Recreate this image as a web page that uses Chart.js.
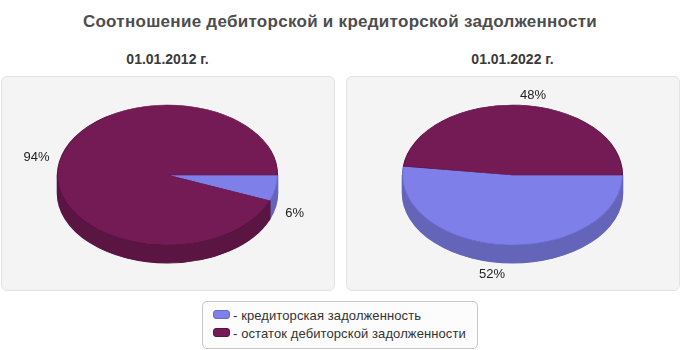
<!DOCTYPE html>
<html>
<head>
<meta charset="utf-8">
<script src="https://cdn.jsdelivr.net/npm/chart.js@4"></script>
<style>
  body { margin: 0; width: 680px; height: 350px; background: #fff; font-family: "Liberation Sans", Arial, sans-serif; position: relative; overflow: hidden; }
  #title { position: absolute; left: 0; width: 680px; top: 12px; text-align: center; font-weight: bold; font-size: 17px; letter-spacing: 0.28px; color: #4d4d4d; }
  .sub { position: absolute; top: 51px; width: 333px; text-align: center; font-weight: bold; font-size: 14px; color: #3a3a3a; }
  .panel { position: absolute; top: 76px; width: 332px; height: 213px; background: #f4f4f4; border: 1px solid #e3e3e3; border-radius: 6px; }
  .panel canvas { position: absolute; left: 0; top: 0; }
  #legend { position: absolute; left: 202px; top: 301px; width: 274px; height: 46px; border: 1px solid #c8c8c8; border-radius: 5px; background: #fcfcfc; font-size: 13px; color: #333; }
  .item { position: absolute; left: 10px; height: 16px; line-height: 16px; white-space: nowrap; letter-spacing: 0.1px; }
  .sw { display: inline-block; width: 15px; height: 7px; border-radius: 3px; margin-right: 3px; vertical-align: 1px; }
</style>
</head>
<body>
<div id="title">Соотношение дебиторской и кредиторской задолженности</div>
<div class="sub" style="left:1px">01.01.2012 г.</div>
<div class="sub" style="left:346px">01.01.2022 г.</div>
<div class="panel" style="left:1px"><canvas id="pie1"></canvas></div>
<div class="panel" style="left:346px"><canvas id="pie2"></canvas></div>
<div id="legend"></div>

<script>
// данные
const seriesNames = ['кредиторская задолженность', 'остаток дебиторской задолженности'];
const values2012 = [6, 94];
const values2022 = [52, 48];
const topColors = ['#7f7fe9', '#741b55'];
const sideColors = ['#6464b9', '#5a1543'];
const edgeColors = ['#6a6ad0', '#5e1145'];

// легенда
const legend = document.getElementById('legend');
seriesNames.forEach(function (name, i) {
  const row = document.createElement('div');
  row.className = 'item';
  row.style.top = (6 + i * 18) + 'px';
  row.innerHTML = '<span class="sw" style="background:' + topColors[i] + ';border:1px solid ' + edgeColors[i] + '"></span>- ' + name;
  legend.appendChild(row);
});

// псевдо-3D: сплющиваем круг и рисуем боковину
const RX = 110, RY = 70, DEPTH = 18;

const pie3d = {
  id: 'pie3d',
  beforeDatasetsDraw(chart) {
    const ctx = chart.ctx;
    const arcs = chart.getDatasetMeta(0).data;
    if (!arcs.length) return;
    const cx = arcs[0].x, cy = arcs[0].y, r = arcs[0].outerRadius;
    const sx = RX / r, sy = RY / r;
    const d = DEPTH / sy;
    ctx.save();
    ctx.translate(cx, cy);
    ctx.scale(sx, sy);
    ctx.translate(-cx, -cy);
    // боковая сторона
    arcs.forEach(function (arc, i) {
      let a0 = arc.startAngle, a1 = arc.endAngle;
      while (a0 < 0) { a0 += 2 * Math.PI; a1 += 2 * Math.PI; }
      const s = Math.max(a0, 0), e = Math.min(a1, Math.PI);
      if (e <= s) return;
      ctx.beginPath();
      ctx.arc(cx, cy, r, s, e);
      ctx.lineTo(cx + r * Math.cos(e), cy + r * Math.sin(e) + d);
      ctx.arc(cx, cy + d, r, e, s, true);
      ctx.closePath();
      ctx.fillStyle = sideColors[i];
      ctx.fill();
      ctx.lineWidth = 1 / sy;
      ctx.strokeStyle = sideColors[i];
      ctx.stroke();
    });
  },
  afterDatasetsDraw(chart) {
    const ctx = chart.ctx;
    ctx.restore();
    // подписи процентов
    const meta = chart.getDatasetMeta(0);
    const data = chart.data.datasets[0].data;
    const total = data.reduce((a, b) => a + b, 0);
    ctx.save();
    ctx.font = '13px "Liberation Sans", Arial, sans-serif';
    ctx.fillStyle = '#222';
    meta.data.forEach(function (arc, i) {
      const mid = (arc.startAngle + arc.endAngle) / 2;
      const c = Math.cos(mid), s = Math.sin(mid);
      let x = arc.x + (RX + 10) * c;
      let y = arc.y + (RY + 6) * s;
      if (s > 0) y += DEPTH + 9.5;
      ctx.textAlign = c >= 0 ? 'left' : 'right';
      ctx.textBaseline = 'alphabetic';
      ctx.fillText(Math.round(data[i] / total * 100) + '%', x, y);
    });
    ctx.restore();
  }
};

function makePie(id, values) {
  const canvas = document.getElementById(id);
  return new Chart(canvas, {
    type: 'pie',
    data: {
      labels: seriesNames,
      datasets: [{
        data: values,
        backgroundColor: topColors,
        borderColor: edgeColors,
        borderWidth: 1,
        clip: false
      }]
    },
    options: {
      responsive: false,
      animation: false,
      rotation: 90,
      layout: { padding: { left: 0, right: 1, top: 0, bottom: 17 } },
      plugins: { legend: { display: false }, tooltip: { enabled: false } },
      events: []
    },
    plugins: [pie3d]
  });
}

document.getElementById('pie1').width = 332;
document.getElementById('pie1').height = 213;
document.getElementById('pie2').width = 332;
document.getElementById('pie2').height = 213;
makePie('pie1', values2012);
makePie('pie2', values2022);
</script>
</body>
</html>
